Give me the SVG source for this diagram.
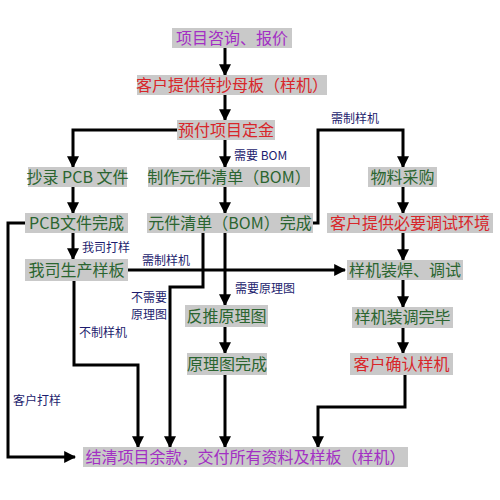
<svg xmlns="http://www.w3.org/2000/svg" width="500" height="500" viewBox="0 0 500 500">
<style>
.bg{fill:#ffffff}
.box{fill:#c9c9c9}
.t{font-family:"Noto Sans CJK SC","Noto Sans",sans-serif;font-size:16px;text-anchor:middle}
.g{fill:#2b6530}
.r{fill:#d8262a}
.p{fill:#a32fc4}
.lbl{font-family:"Noto Sans CJK SC","Noto Sans",sans-serif;font-size:12px;fill:#1d1d6e}
.c{fill:none;stroke:#000;stroke-width:3;marker-end:url(#ah)}
</style>
<defs>
<marker id="ah" viewBox="0 0 10 10" refX="9" refY="5" markerWidth="4" markerHeight="4" orient="auto" markerUnits="strokeWidth">
<path d="M0,0 L10,5 L0,10 z" fill="#000"/>
</marker>
</defs>
<rect class="bg" x="0" y="0" width="500" height="500"/>
<g id="connectors">
<path class="c" d="M225,47 V75"/>
<path class="c" d="M225,95 V120"/>
<path class="c" d="M177,130 H73 V167"/>
<path class="c" d="M225,140 V167"/>
<path class="c" d="M313,223 H318 V130 H403 V167"/>
<path class="c" d="M73,187 V213"/>
<path class="c" d="M225,187 V213"/>
<path class="c" d="M403,187 V213"/>
<path class="c" d="M403,233 V260"/>
<path class="c" d="M73,233 V259"/>
<path class="c" d="M25,223 H8 V457 H75"/>
<path class="c" d="M128,270 H345"/>
<path class="c" d="M74,281 V365 H138 V447"/>
<path class="c" d="M203,233 V287 H170 V447"/>
<path class="c" d="M225,233 V305"/>
<path class="c" d="M225,327 V353"/>
<path class="c" d="M225,375 V447"/>
<path class="c" d="M403,280 V307"/>
<path class="c" d="M403,328 V353"/>
<path class="c" d="M405,375 V407 H318 V447"/>
<text class="lbl" x="234" y="160">需要 BOM</text>
<text class="lbl" x="331" y="123">需制样机</text>
<text class="lbl" x="82" y="252">我司打样</text>
<text class="lbl" x="142" y="265">需制样机</text>
<text class="lbl" x="131" y="302">不需要</text>
<text class="lbl" x="131" y="319">原理图</text>
<text class="lbl" x="235" y="293">需要原理图</text>
<text class="lbl" x="79" y="337">不制样机</text>
<text class="lbl" x="13" y="405">客户打样</text>
</g>
<g id="n1"><rect class="box" x="172" y="28" width="120" height="20"/><text class="t p" x="232" y="44">项目咨询、报价</text></g>
<g id="n2"><rect class="box" x="137" y="75" width="190" height="20"/><text class="t r" x="232" y="91">客户提供待抄母板（样机）</text></g>
<g id="n3"><rect class="box" x="177" y="120" width="98" height="20"/><text class="t r" x="226" y="136">预付项目定金</text></g>
<g id="n4"><rect class="box" x="28" y="167" width="99" height="20"/><text class="t g" x="77.5" y="183">抄录 PCB 文件</text></g>
<g id="n5"><rect class="box" x="148" y="167" width="162" height="20"/><text class="t g" x="229" y="183">制作元件清单（BOM）</text></g>
<g id="n6"><rect class="box" x="368" y="167" width="69" height="20"/><text class="t g" x="402.5" y="183">物料采购</text></g>
<g id="n7"><rect class="box" x="25" y="213" width="103" height="20"/><text class="t g" x="76.5" y="229">PCB文件完成</text></g>
<g id="n8"><rect class="box" x="147" y="213" width="166" height="20"/><text class="t g" x="230" y="229">元件清单（BOM）完成</text></g>
<g id="n9"><rect class="box" x="327" y="213" width="166" height="20"/><text class="t r" x="410" y="229">客户提供必要调试环境</text></g>
<g id="n10"><rect class="box" x="25" y="259" width="103" height="22"/><text class="t g" x="76.5" y="276">我司生产样板</text></g>
<g id="n11"><rect class="box" x="347" y="260" width="116" height="20"/><text class="t g" x="405" y="276">样机装焊、调试</text></g>
<g id="n12"><rect class="box" x="185" y="305" width="83" height="22"/><text class="t g" x="226.5" y="322">反推原理图</text></g>
<g id="n13"><rect class="box" x="352" y="307" width="101" height="21"/><text class="t g" x="402.5" y="323">样机装调完毕</text></g>
<g id="n14"><rect class="box" x="187" y="353" width="80" height="22"/><text class="t g" x="227" y="370">原理图完成</text></g>
<g id="n15"><rect class="box" x="350" y="353" width="103" height="22"/><text class="t r" x="401.5" y="370">客户确认样机</text></g>
<g id="n16"><rect class="box" x="83" y="447" width="325" height="20"/><text class="t p" x="245.5" y="463">结清项目余款，交付所有资料及样板（样机）</text></g>
</svg>
